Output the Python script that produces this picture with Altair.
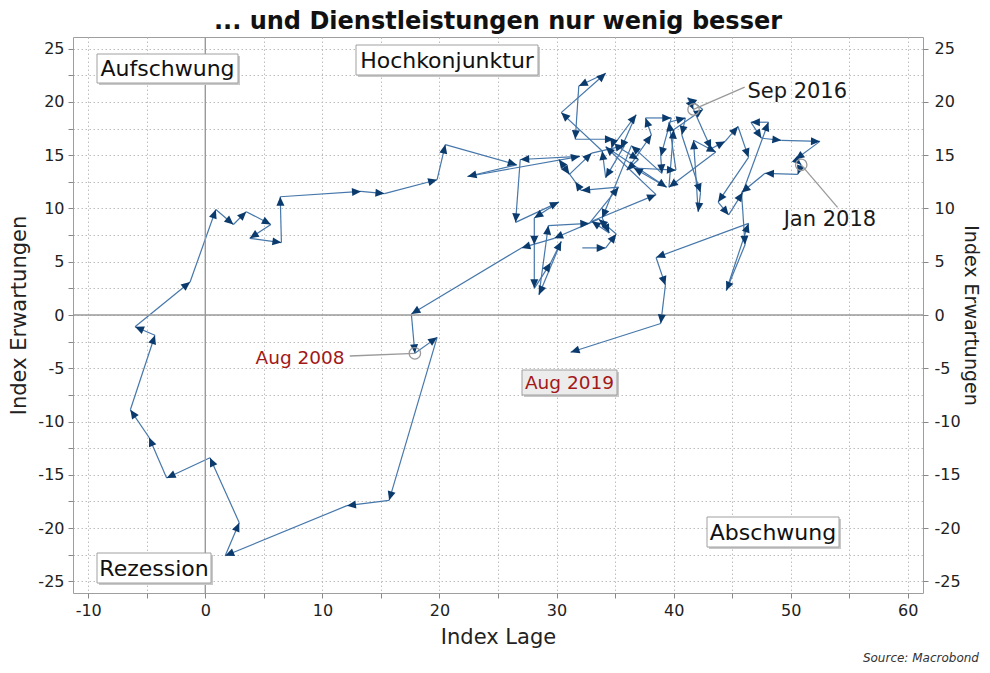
import altair as alt
import pandas as pd
import numpy as np

# ---- data: path of (Index Lage, Index Erwartungen), monthly ----
lage_2008 = [32.2, 34.2, 35.1, 33.6, 29.8, 27.0, 17.6]
erw_2008 = [6.3, 6.3, 7.6, 9.0, 7.2, 6.3, 0.1]

# starts with Aug 2008
lage_krise = [17.9, 19.8, 15.7, 12.1, 1.7, 2.9, 0.4, -3.3, -4.8, -6.4, -4.3, -6.0,
              -1.3, 0.9, 2.4, 3.5, 5.6, 3.8, 6.5, 6.4, 13.3, 15.3, 19.8, 20.5]
erw_krise = [-3.6, -2.1, -17.4, -17.9, -22.6, -19.5, -13.4, -15.3, -11.5, -8.9, -1.9, -1.1,
             3.1, 9.9, 8.5, 9.7, 8.5, 7.2, 6.8, 11.1, 11.6, 11.4, 12.7, 16.0]

lage_cluster = [26.6, 22.4, 32.0, 26.9, 26.5, 30.2, 28.1, 28.1, 28.1, 29.5, 30.4, 28.5,
                29.3, 32.8, 35.3, 32.1, 31.6, 30.2, 31.1, 33.0, 35.8, 34.2, 33.9, 30.4,
                34.2, 31.9, 31.6, 34.9, 34.7, 36.8, 35.5, 37.0, 36.0, 38.1, 37.6, 39.8,
                38.9, 39.0, 36.4, 33.9, 34.5, 33.0, 38.5, 34.2, 39.4, 36.6, 40.2, 39.6,
                41.0, 40.7, 42.3, 42.1, 41.7, 43.6, 39.6, 40.0, 42.5, 41.2]
erw_cluster = [14.1, 13.0, 14.9, 14.6, 8.7, 10.6, 9.1, 6.6, 2.5, 4.9, 6.9, 1.9,
               8.4, 8.6, 12.0, 11.7, 12.5, 14.6, 13.2, 15.2, 15.9, 12.9, 15.4, 19.0,
               22.7, 21.5, 16.5, 16.5, 15.7, 18.8, 15.6, 14.6, 13.6, 16.9, 18.5, 18.5,
               14.9, 13.3, 15.9, 9.1, 7.7, 8.8, 11.3, 15.8, 12.0, 13.8, 13.6, 18.1,
               18.5, 16.9, 11.5, 9.7, 16.4, 15.3, 12.0, 17.4, 19.3, 20.4]

# starts with Sep 2016
lage_boom = [41.7, 43.2, 44.4, 45.5, 46.4, 43.8, 44.7, 45.9, 48.1, 46.6, 47.5, 49.2, 52.5, 50.4]
erw_boom = [19.3, 15.6, 16.3, 17.7, 14.8, 10.6, 9.4, 11.5, 18.1, 18.1, 16.6, 16.4, 16.3, 14.6]

# starts with Jan 2018, ends with Aug 2019
lage_ab = [50.9, 50.6, 47.8, 45.8, 46.1, 44.5, 46.4, 38.5, 39.3, 38.9, 31.2]
erw_ab = [14.1, 13.2, 13.3, 11.5, 6.6, 2.3, 8.6, 5.4, 2.8, -0.8, -3.5]

quadrants = ["Aufschwung", "Hochkonjunktur", "Rezession", "Abschwung"]
title_text = "... und Dienstleistungen nur wenig besser"

# ---- assemble ----
lage = lage_2008 + lage_krise + lage_cluster + lage_boom + lage_ab
erw = erw_2008 + erw_krise + erw_cluster + erw_boom + erw_ab
i_aug08 = len(lage_2008)
i_sep16 = i_aug08 + len(lage_krise) + len(lage_cluster)
i_jan18 = i_sep16 + len(lage_boom)

W, H = 850, 556
XD = [-11.3, 61.3]
YD = [-26.1, 26.1]
kx = W / (XD[1] - XD[0])
ky = H / (YD[1] - YD[0])

x0 = np.array(lage[:-1]); y0 = np.array(erw[:-1])
x1 = np.array(lage[1:]); y1 = np.array(erw[1:])
ang = (np.degrees(np.arctan2((x1 - x0) * kx, (y1 - y0) * ky)) + 360) % 360
seg = pd.DataFrame({"x": x0, "y": y0, "x2": x1, "y2": y1, "ang": ang})

xs = alt.Scale(domain=XD, nice=False, zero=False)
ys = alt.Scale(domain=YD, nice=False, zero=False)

x_axis = alt.Axis(values=list(range(-10, 61, 5)),
                  labelExpr="datum.value % 10 == 0 ? toString(datum.value) : ''",
                  title="Index Lage", grid=True, gridDash=[1.5, 2.5], gridColor="#bdbdbd",
                  tickSize=5, labelPadding=4, titlePadding=8)
y_axis = alt.Axis(values=[v / 2 for v in range(-50, 51, 5)],
                  labelExpr="datum.value % 5 == 0 ? toString(datum.value) : ''",
                  title="Index Erwartungen", grid=True, gridDash=[1.5, 2.5], gridColor="#bdbdbd",
                  tickSize=5, labelPadding=4, titlePadding=8)

lines = alt.Chart(seg).mark_rule(color="#4677aa", strokeWidth=1.2).encode(
    x=alt.X("x:Q", scale=xs, axis=x_axis), y=alt.Y("y:Q", scale=ys, axis=y_axis),
    x2="x2:Q", y2="y2:Q")

zero_x = alt.Chart(pd.DataFrame({"v": [0]})).mark_rule(color="#9a9a9a", strokeWidth=1.4).encode(
    x=alt.X("v:Q", scale=xs, axis=None))
zero_y = alt.Chart(pd.DataFrame({"v": [0]})).mark_rule(color="#9a9a9a", strokeWidth=1.4).encode(
    y=alt.Y("v:Q", scale=ys, axis=None))

ARROW = "M0,0L-0.8,1.8L0.8,1.8Z"
heads = alt.Chart(seg).mark_point(shape=ARROW, filled=True, size=100, color="#0b3a6d",
                                  opacity=1, strokeWidth=0).encode(
    x=alt.X("x2:Q", scale=xs, axis=None), y=alt.Y("y2:Q", scale=ys, axis=None),
    angle=alt.Angle("ang:Q", scale=None))

marked = pd.DataFrame({
    "x": [lage[i_aug08], lage[i_sep16], lage[i_jan18]],
    "y": [erw[i_aug08], erw[i_sep16], erw[i_jan18]],
    "lx": [12.34, 46.07, 54.0],
    "ly": [-3.85, 21.4, 10.1],
})
conn = alt.Chart(marked).mark_rule(color="#9a9a9a", strokeWidth=1.3).encode(
    x=alt.X("x:Q", scale=xs, axis=None), y=alt.Y("y:Q", scale=ys, axis=None),
    x2="lx:Q", y2="ly:Q")
circ = alt.Chart(marked).mark_point(shape="circle", size=130, filled=False, color="#9a9a9a",
                                    strokeWidth=1.3, opacity=1).encode(
    x=alt.X("x:Q", scale=xs, axis=None), y=alt.Y("y:Q", scale=ys, axis=None))

lab_df = pd.DataFrame({"t": ["Sep 2016", "Jan 2018"], "x": [46.3, 49.4], "y": [20.9, 8.9]})
lab_black = alt.Chart(lab_df).mark_text(align="left", baseline="middle", font="DejaVu Sans",
                                        fontSize=21, color="#1a1a1a").encode(
    x=alt.X("x:Q", scale=xs, axis=None), y=alt.Y("y:Q", scale=ys, axis=None), text="t:N")
lab_aug08 = alt.Chart(pd.DataFrame({"t": ["Aug 2008"], "x": [11.9], "y": [-4.0]})).mark_text(
    align="right", baseline="middle", font="DejaVu Sans", fontSize=18.5, color="#a31818").encode(
    x=alt.X("x:Q", scale=xs, axis=None), y=alt.Y("y:Q", scale=ys, axis=None), text="t:N")

one = pd.DataFrame({"a": [0]})


def box(xa, ya, xb, yb, fill="white"):
    shadow = alt.Chart(one).mark_rect(color="#c8c8c8").encode(
        x=alt.value(xa + 2), x2=alt.value(xb + 2), y=alt.value(ya + 2), y2=alt.value(yb + 2))
    rect = alt.Chart(one).mark_rect(fill=fill, stroke="#a0a0a0", strokeWidth=1).encode(
        x=alt.value(xa), x2=alt.value(xb), y=alt.value(ya), y2=alt.value(yb))
    return [shadow, rect]


def label(text, cx, cy, size=22, color="#111111"):
    return alt.Chart(pd.DataFrame({"t": [text]})).mark_text(
        align="center", baseline="middle", font="DejaVu Sans", fontSize=size, color=color).encode(
        x=alt.value(cx), y=alt.value(cy), text="t:N")


ann = []
ann += box(24, 17, 165, 46) + [label(quadrants[0], 94.5, 32)]
ann += box(283, 8, 465, 38) + [label(quadrants[1], 374, 23.5)]
ann += box(24, 516, 138, 546) + [label(quadrants[2], 81, 531.5)]
ann += box(634, 480, 766, 510) + [label(quadrants[3], 700, 495.5)]
ann += box(449, 333, 544, 358, fill="#ececec") + [label("Aug 2019", 496.5, 346, 18.5, "#a31818")]

source = alt.Chart(pd.DataFrame({"t": ["Source: Macrobond"]})).mark_text(
    align="right", baseline="alphabetic", font="DejaVu Sans", fontSize=12, fontStyle="italic",
    color="#333333").encode(x=alt.value(906), y=alt.value(625), text="t:N")

right = alt.Chart(seg).mark_rule(opacity=0).encode(
    y=alt.Y("y:Q", scale=ys,
            axis=alt.Axis(orient="right", values=list(range(-25, 26, 5)),
                          labelExpr="toString(datum.value)", title="Index Erwartungen",
                          titleFontSize=19, grid=False, tickSize=5, labelPadding=6,
                          titlePadding=0)))

chart = alt.layer(lines, zero_x, zero_y, heads, conn, circ, lab_black, lab_aug08, *ann, source,
                  right).resolve_scale(y="independent").resolve_axis(
    x="independent", y="independent").properties(
    width=W, height=H,
    padding={"left": 65, "top": 29, "right": 59, "bottom": 71},
    autosize=alt.AutoSizeParams(type="none"),
    title=alt.TitleParams(title_text, font="DejaVu Sans", fontSize=24, fontWeight="bold",
                          anchor="middle", offset=2, color="#111111"),
).configure_view(stroke="#9f9f9f", strokeWidth=1).configure_axis(
    labelFont="DejaVu Sans", titleFont="DejaVu Sans", labelFontSize=16, titleFontSize=21,
    titleFontWeight="normal", labelColor="#222222", titleColor="#222222", tickColor="#888888",
    domain=False)

chart.save("out.html", embed_options={"renderer": "svg", "actions": False})
